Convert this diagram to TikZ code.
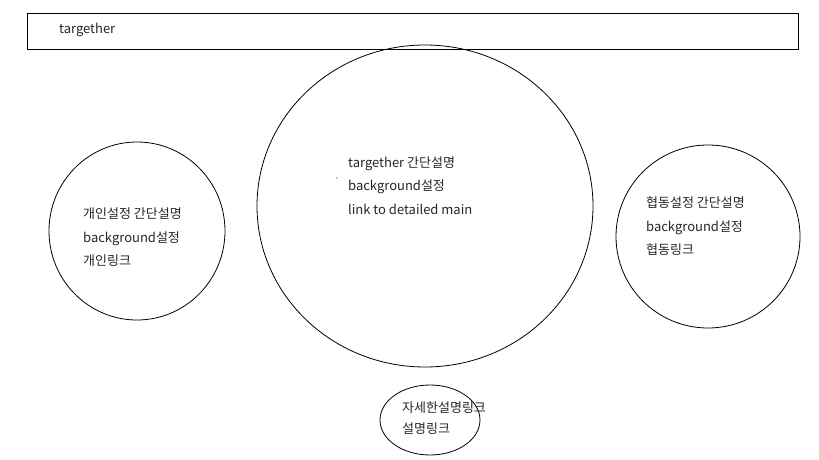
\documentclass[tikz,border=0pt]{standalone}
\usepackage{fontspec}
\setmainfont{Noto Sans CJK KR}
\usetikzlibrary{shapes.geometric}
\begin{document}
\begin{tikzpicture}[x=1pt,y=-1pt,
  shape line/.style={draw=black,line width=0.8pt},
  txt/.style={anchor=west,inner sep=0pt,align=left,font=\fontsize{13}{23.5}\selectfont,text=black!85}]
\useasboundingbox (0,0) rectangle (819,460);
\fill[white] (0,0) rectangle (819,460);
% top bar
\node[shape line,rectangle,minimum width=771,minimum height=36,inner sep=0pt] (bar) at (412.5,31) {};
\node[txt] (bartext) at (59,30) {targether};
% left circle
\node[shape line,ellipse,minimum width=176,minimum height=178,inner sep=0pt] (left) at (137,231) {};
\node[txt] (lefttext) at (83,237.5) {개인설정 간단설명\\background설정\\개인링크};
% centre ellipse
\node[shape line,ellipse,minimum width=336,minimum height=322,inner sep=0pt] (centre) at (425,206) {};
\node[txt] (centretext) at (348,185.5) {targether 간단설명\\background설정\\link to detailed main};
\fill (337,178) circle (0.7);
% right circle
\node[shape line,ellipse,minimum width=184,minimum height=183,inner sep=0pt] (right) at (708,236.5) {};
\node[txt] (righttext) at (646,226.5) {협동설정 간단설명\\background설정\\협동링크};
% bottom ellipse
\node[shape line,ellipse,minimum width=100,minimum height=70,inner sep=0pt] (bottom) at (430,420) {};
\node[txt,font=\fontsize{13}{21}\selectfont] (bottomtext) at (402,418) {자세한설명링크\\설명링크};
\end{tikzpicture}
\end{document}
